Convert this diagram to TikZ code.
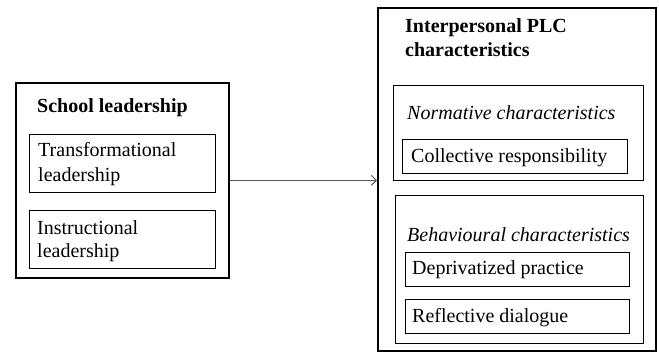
\documentclass[tikz,border=0pt]{standalone}
\usepackage{fontspec}
\setmainfont{Liberation Serif}
\usetikzlibrary{arrows.meta}
\begin{document}
\begin{tikzpicture}[x=1pt,y=-1pt,
  outerbox/.style={draw=black,line width=1.6pt,rectangle,inner sep=0pt,anchor=north west},
  innerbox/.style={draw=black,line width=1pt,rectangle,inner sep=0pt,anchor=north west},
  txt/.style={anchor=base west,inner sep=0pt,font=\fontsize{20}{24}\selectfont},
  btxt/.style={txt,font=\fontsize{20}{24}\selectfont\bfseries},
  itxt/.style={txt,font=\fontsize{20}{24}\selectfont\itshape}]
\useasboundingbox (0,0) rectangle (659,352);
% left group
\node[outerbox,minimum width=213pt,minimum height=195pt] (sl) at (15,82) {};
\node[innerbox,minimum width=186pt,minimum height=58pt] (tl) at (29,134) {};
\node[innerbox,minimum width=186pt,minimum height=58pt] (il) at (29,210) {};
\node[btxt] (slt) at (37,113) {School leadership};
\node[txt] (tlt1) at (38,157) {Transformational};
\node[txt] (tlt2) at (38,182) {leadership};
\node[txt] (ilt1) at (37,235) {Instructional};
\node[txt] (ilt2) at (37,258) {leadership};
% right group
\node[outerbox,minimum width=278pt,minimum height=343pt] (ip) at (377,7) {};
\node[innerbox,line width=1.4pt,minimum width=250pt,minimum height=95pt] (nc) at (393,85) {};
\node[innerbox,minimum width=225pt,minimum height=34pt] (cr) at (402,139) {};
\node[innerbox,line width=1.4pt,minimum width=248pt,minimum height=148pt] (bc) at (395,195) {};
\node[innerbox,minimum width=224pt,minimum height=34pt] (dp) at (405,252) {};
\node[innerbox,minimum width=224pt,minimum height=34pt] (rd) at (405,299) {};
\node[btxt] (ipt1) at (405,33) {Interpersonal PLC};
\node[btxt] (ipt2) at (405,57) {characteristics};
\node[itxt] (nct) at (407,120) {Normative characteristics};
\node[txt] (crt) at (411,163) {Collective responsibility};
\node[itxt] (bct) at (407,242) {Behavioural characteristics};
\node[txt] (dpt) at (412,275) {Deprivatized practice};
\node[txt] (rdt) at (412,323) {Reflective dialogue};
% connector
\draw[draw=black!65,line width=1pt,-{Straight Barb[length=5pt,width=10pt]}] (sl.east) -- (sl.east -| ip.west);
\end{tikzpicture}
\end{document}
